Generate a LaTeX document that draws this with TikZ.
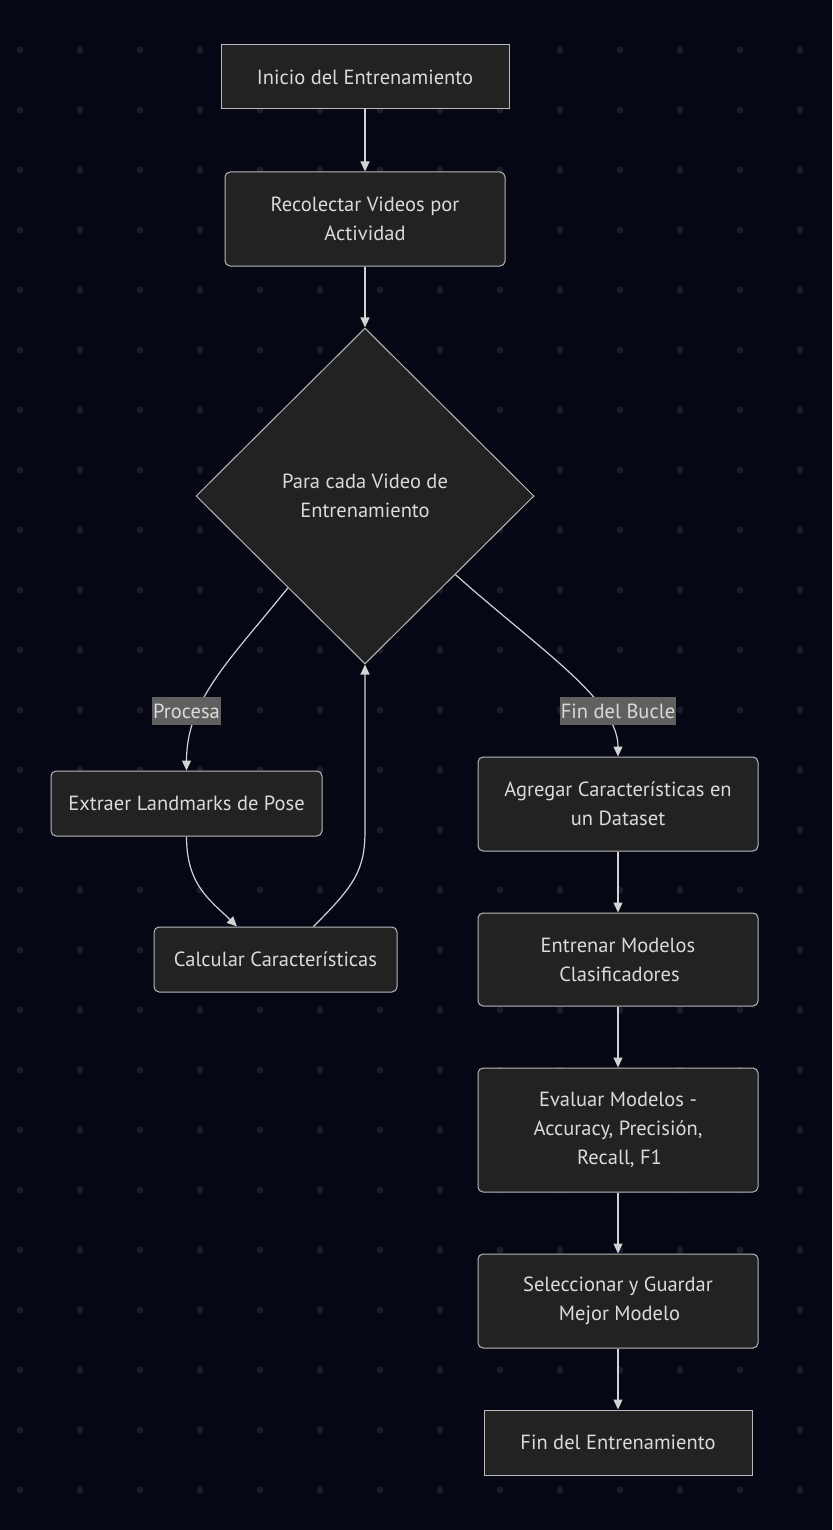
\documentclass[tikz,border=0pt]{standalone}
\usepackage{fontspec}
\setmainfont{PT Sans}
\usetikzlibrary{shapes.geometric,arrows.meta}
\definecolor{bg}{RGB}{5,8,20}
\definecolor{dotc}{RGB}{27,30,42}
\definecolor{nodefill}{RGB}{33,34,33}
\definecolor{nodeline}{RGB}{185,185,185}
\definecolor{txt}{RGB}{218,218,218}
\definecolor{edgec}{RGB}{210,210,210}
\definecolor{lblfill}{RGB}{96,96,96}
\begin{document}
\begin{tikzpicture}[x=1pt,y=-1pt,
 base/.style={draw=nodeline, fill=nodefill, text=txt, line width=1pt, align=center, inner sep=0pt, font=\fontsize{20.5}{29}\selectfont},
 sq/.style={base, rectangle},
 rnd/.style={base, rectangle, rounded corners=5pt},
 dia/.style={base, diamond},
 lbl/.style={fill=lblfill, text=txt, inner xsep=1pt, inner ysep=0pt, minimum height=28pt, font=\fontsize{20.5}{24}\selectfont},
 arr/.style={draw=edgec, line width=1.2pt, -{Triangle[length=10pt,width=9pt]}},
]
\useasboundingbox (0,0) rectangle (832,1530);
\fill[bg] (0,0) rectangle (832,1530);
\foreach \x in {20,80,...,800} \foreach \y in {50,110,...,1490} \fill[dotc] (\x,\y) circle[radius=3.5pt];

\node[sq, minimum width=288pt, minimum height=64pt] (start) at (365,77) {Inicio del Entrenamiento};
\node[rnd, minimum width=280pt, minimum height=94pt] (rec) at (365,219) {Recolectar Videos por\\Actividad};
\node[dia, minimum width=338pt, minimum height=336pt] (loop) at (365,496) {Para cada Video de\\Entrenamiento};
\node[rnd, minimum width=271pt, minimum height=65pt] (ext) at (186.5,803.5) {Extraer Landmarks de Pose};
\node[rnd, minimum width=243pt, minimum height=65pt] (calc) at (275.5,959.5) {Calcular Características};
\node[rnd, minimum width=280pt, minimum height=94pt] (agr) at (618,804) {Agregar Características en\\un Dataset};
\node[rnd, minimum width=280pt, minimum height=93pt] (ent) at (618,959.5) {Entrenar Modelos\\\hspace{3pt}Clasificadores};
\node[rnd, minimum width=280pt, minimum height=124pt] (eva) at (618,1130) {Evaluar Modelos -\\Accuracy, Precisión,\\\hspace{3pt}Recall, F1};
\node[rnd, minimum width=280pt, minimum height=94pt] (sel) at (618,1301) {Seleccionar y Guardar\\\hspace{3pt}Mejor Modelo};
\node[sq, minimum width=268pt, minimum height=65pt] (fin) at (618,1442.5) {Fin del Entrenamiento};

\draw[arr] (start) -- (rec);
\draw[arr] (rec) -- (loop);
\draw[arr] (loop.230.7) .. controls (230,660) and (186.5,700) .. (ext.north);
\node[lbl] (lp) at (186.5,711) {Procesa};
\draw[arr] (loop.319.4) .. controls (540,650) and (618,700) .. (agr.north);
\node[lbl] (lf) at (618,711) {Fin del Bucle};
\draw[arr] (ext.south) .. controls (186.5,885) and (210,900) .. ([xshift=-38.5pt]calc.north);
\draw[arr] ([xshift=38pt]calc.north) .. controls (355,885) and (365,870) .. (365,830) -- (loop.south);
\draw[arr] (agr) -- (ent);
\draw[arr] (ent) -- (eva);
\draw[arr] (eva) -- (sel);
\draw[arr] (sel) -- (fin);
\end{tikzpicture}
\end{document}
